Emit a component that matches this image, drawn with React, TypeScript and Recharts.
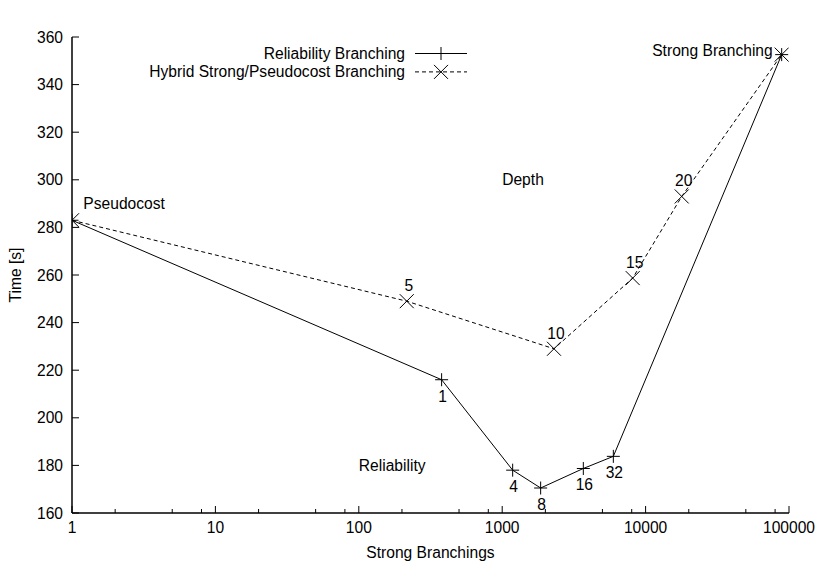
import React from "react";
import { Label, Legend, Line, LineChart, ReferenceDot, XAxis, YAxis } from "recharts";

const FONT = '"Liberation Sans", Arial, Helvetica, sans-serif';
const FS = 15.6;

const xMajorTicks = [1, 10, 100, 1000, 10000, 100000];
const xMinorTicks = [2, 5, 8, 20, 50, 80, 200, 500, 800, 2000, 5000, 8000, 20000, 50000, 80000];
const yTicks = [160, 180, 200, 220, 240, 260, 280, 300, 320, 340, 360];

const reliabilityBranchings = [1, 378, 1183, 1854, 3679, 5957, 88900];
const reliabilityTime = [283, 216, 178, 170.5, 178.7, 183.8, 352.6];
const reliabilityLabels = ["", "1", "4", "8", "16", "32", ""];

const hybridBranchings = [1, 216, 2297, 8128, 17860, 88900];
const hybridTime = [283, 249, 229, 258.7, 293, 352.6];
const hybridLabels = ["", "5", "10", "15", "20", ""];

const noteText = ["Pseudocost", "Strong Branching", "Depth", "Reliability"];
const noteX = [1.2, 77000, 1000, 100];
const noteY = [290, 354.5, 300, 180];
const noteAlign = ["start", "end", "start", "start"];

const allXTicks = [...xMajorTicks, ...xMinorTicks].sort((a, b) => a - b);

const reliabilityData = reliabilityBranchings.map((x, i) => ({ x, y: reliabilityTime[i] }));
const hybridData = hybridBranchings.map((x, i) => ({ x, y: hybridTime[i] }));

const txt = { fontFamily: FONT, fontSize: FS, fill: "#000" };

const plusPath = (x: number, y: number, s = 6.5) =>
  `M${x - s},${y}H${x + s}M${x},${y - s}V${y + s}`;
const crossPath = (x: number, y: number, s = 7) =>
  `M${x - s},${y - s}L${x + s},${y + s}M${x - s},${y + s}L${x + s},${y - s}`;

function BottomTick(props: any) {
  const { x, y, payload } = props;
  const major = xMajorTicks.includes(payload.value);
  return (
    <g>
      <line x1={x} x2={x} y1={y} y2={y - (major ? 7 : 4)} stroke="#000" />
      {major && (
        <text x={x} y={y + 20} textAnchor="middle" {...txt}>
          {payload.value}
        </text>
      )}
    </g>
  );
}

function TopTick(props: any) {
  const { x, y, payload } = props;
  const major = xMajorTicks.includes(payload.value);
  return <line x1={x} x2={x} y1={y} y2={y + (major ? 7 : 4)} stroke="#000" />;
}

function LeftTick(props: any) {
  const { x, y, payload } = props;
  return (
    <g>
      <line x1={x} x2={x + 7} y1={y} y2={y} stroke="#000" />
      <text x={x - 9} y={y + 5.5} textAnchor="end" {...txt}>
        {payload.value}
      </text>
    </g>
  );
}

function RightTick(props: any) {
  const { x, y } = props;
  return <line x1={x} x2={x - 7} y1={y} y2={y} stroke="#000" />;
}

function LegendBox() {
  const rows = [
    { name: "Reliability Branching", dash: undefined, mark: plusPath },
    { name: "Hybrid Strong/Pseudocost Branching", dash: "4 3", mark: crossPath },
  ];
  return (
    <svg width={480} height={90} style={{ display: "block", overflow: "visible" }}>
      {rows.map((r, i) => {
        const y = 53.5 + 18.4 * i;
        return (
          <g key={r.name}>
            <text x={405} y={y + 5.5} textAnchor="end" {...txt}>
              {r.name}
            </text>
            <line x1={415} x2={467} y1={y} y2={y} stroke="#000" strokeDasharray={r.dash} />
            <path d={r.mark(441, y)} stroke="#000" fill="none" />
          </g>
        );
      })}
    </svg>
  );
}

export default function App() {
  return (
    <div style={{ position: "absolute", left: 0, top: 0, width: 819, height: 563, background: "#fff" }}>
      <LineChart width={819} height={563} margin={{ top: 37, right: 30, bottom: 20, left: 22 }}>
        <XAxis
          xAxisId={0}
          dataKey="x"
          type="number"
          scale="log"
          domain={[1, 100000]}
          allowDataOverflow
          ticks={allXTicks}
          interval={0}
          tick={BottomTick}
          tickLine={false}
          tickSize={0}
          tickMargin={0}
          height={30}
          axisLine={{ stroke: "#000", strokeWidth: 1.5 }}
        >
          <Label
            content={({ viewBox }: any) => (
              <text x={viewBox.x + viewBox.width / 2} y={viewBox.y + 45} textAnchor="middle" {...txt}>
                Strong Branchings
              </text>
            )}
          />
        </XAxis>
        <XAxis
          xAxisId="top"
          orientation="top"
          type="number"
          scale="log"
          domain={[1, 100000]}
          allowDataOverflow
          ticks={allXTicks}
          interval={0}
          tick={TopTick}
          tickLine={false}
          tickSize={0}
          tickMargin={0}
          height={0}
          axisLine={{ stroke: "#000", strokeWidth: 1.5 }}
        >
          <Label
            content={({ viewBox }: any) => (
              <text x={viewBox.x + viewBox.width / 2} y={viewBox.y - 17.7} textAnchor="middle" {...txt}>
                Lookahead=4
              </text>
            )}
          />
        </XAxis>
        <YAxis
          yAxisId={0}
          type="number"
          domain={[160, 360]}
          allowDataOverflow
          ticks={yTicks}
          interval={0}
          tick={LeftTick}
          tickLine={false}
          tickSize={0}
          tickMargin={0}
          width={50}
          axisLine={{ stroke: "#000", strokeWidth: 1.5 }}
        >
          <Label
            content={({ viewBox }: any) => {
              const cx = viewBox.x - 1;
              const cy = viewBox.y + viewBox.height / 2;
              return (
                <text x={cx} y={cy} transform={`rotate(-90 ${cx} ${cy})`} textAnchor="middle" {...txt}>
                  Time [s]
                </text>
              );
            }}
          />
        </YAxis>
        <YAxis
          yAxisId="right"
          orientation="right"
          type="number"
          domain={[160, 360]}
          allowDataOverflow
          ticks={yTicks}
          interval={0}
          tick={RightTick}
          tickLine={false}
          tickSize={0}
          tickMargin={0}
          width={0}
          axisLine={{ stroke: "#000", strokeWidth: 1.5 }}
        />
        <Legend
          layout="vertical"
          align="center"
          verticalAlign="middle"
          wrapperStyle={{ left: 0, top: 0, width: 480, height: 0 }}
          content={LegendBox}
        />
        {noteText.map((t, i) => (
          <ReferenceDot
            key={t}
            x={noteX[i]}
            y={noteY[i]}
            r={0}
            ifOverflow="visible"
            shape={(p: any) => (
              <text x={p.cx} y={p.cy + 5.5} textAnchor={noteAlign[i] as any} {...txt}>
                {t}
              </text>
            )}
          />
        ))}
        <Line
          data={reliabilityData}
          dataKey="y"
          name="Reliability Branching"
          stroke="#000"
          strokeWidth={1}
          isAnimationActive={false}
          dot={(p: any) => (
            <path key={`r${p.index}`} d={plusPath(p.cx, p.cy)} stroke="#000" fill="none" />
          )}
          label={(p: any) => (
            <text key={`rl${p.index}`} x={p.x + 1} y={p.y + 22} textAnchor="middle" {...txt}>
              {reliabilityLabels[p.index]}
            </text>
          )}
        />
        <Line
          data={hybridData}
          dataKey="y"
          name="Hybrid Strong/Pseudocost Branching"
          stroke="#000"
          strokeWidth={1}
          strokeDasharray="4 3"
          isAnimationActive={false}
          dot={(p: any) => (
            <path key={`h${p.index}`} d={crossPath(p.cx, p.cy)} stroke="#000" fill="none" />
          )}
          label={(p: any) => (
            <text key={`hl${p.index}`} x={p.x + 2} y={p.y - 10} textAnchor="middle" {...txt}>
              {hybridLabels[p.index]}
            </text>
          )}
        />
      </LineChart>
    </div>
  );
}
